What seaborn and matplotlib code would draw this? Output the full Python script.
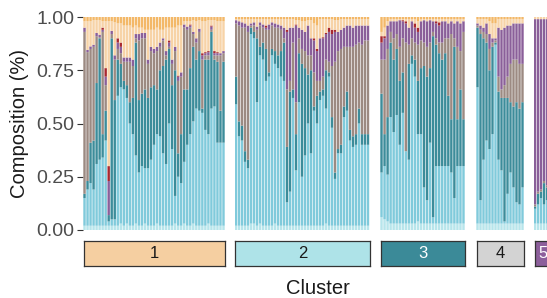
import numpy as np
import pandas as pd
import seaborn as sns
import matplotlib.pyplot as plt

# cumulative composition per sample, bottom -> top:
# (light cyan, light blue, teal, taupe, purple, red, peach); orange fills up to 1.0
cluster1 = [
    (.02, .15, .17, .93, .95, .95, .98), (.02, .19, .23, .835, .846, .846, .98),
    (.02, .22, .41, .85, .862, .862, .98), (.02, .19, .42, .86, .87, .87, .985),
    (.02, .31, .69, .91, .925, .925, .985), (.02, .33, .90, .905, .917, .917, .985),
    (.02, .34, .45, .93, .94, .95, .98), (.02, .42, .56, .68, .72, .76, .98),
    (.02, .04, .07, .07, .23, .30, .98), (.02, .05, .90, .92, .935, .935, .98),
    (.02, .05, .61, .80, .82, .82, .975), (.02, .63, .80, .85, .88, .90, .97),
    (.03, .67, .78, .83, .86, .88, .97), (.02, .66, .70, .79, .81, .81, .96),
    (.03, .62, .68, .79, .81, .81, .96), (.02, .50, .60, .79, .81, .81, .96),
    (.02, .45, .62, .77, .80, .80, .95), (.03, .35, .88, .90, .92, .92, .96),
    (.02, .27, .61, .89, .92, .92, .95), (.02, .30, .64, .90, .925, .925, .95),
    (.03, .29, .66, .90, .925, .925, .94), (.02, .29, .62, .78, .80, .80, .94),
    (.02, .33, .67, .84, .86, .86, .94), (.02, .40, .68, .83, .85, .85, .94),
    (.03, .45, .66, .84, .86, .86, .95), (.02, .44, .75, .86, .88, .88, .94),
    (.02, .36, .77, .89, .90, .90, .94), (.02, .31, .80, .82, .84, .84, .95),
    (.02, .50, .85, .86, .88, .89, .95), (.02, .38, .68, .78, .80, .80, .95),
    (.03, .16, .75, .84, .86, .86, .95), (.02, .25, .36, .70, .72, .725, .96),
    (.02, .22, .45, .72, .74, .74, .96), (.03, .32, .66, .95, .965, .965, .98),
    (.02, .40, .66, .94, .955, .955, .98), (.02, .45, .76, .95, .96, .965, .98),
    (.03, .51, .86, .92, .93, .93, .985), (.02, .57, .80, .88, .90, .90, .98),
    (.02, .56, .84, .93, .945, .945, .985), (.02, .55, .57, .80, .82, .83, .98),
    (.02, .47, .80, .82, .83, .835, .98), (.03, .45, .80, .82, .835, .84, .985),
    (.02, .57, .93, .94, .955, .96, .985), (.02, .58, .80, .82, .83, .84, .985),
    (.02, .41, .79, .82, .83, .835, .98), (.02, .41, .56, .82, .83, .83, .98),
    (.02, .41, .79, .83, .84, .84, .98),
]
cluster2 = [
    (.02, .59, .72, .97, .985, .985, .99), (.02, .44, .51, .96, .98, .98, .99),
    (.02, .42, .49, .95, .975, .975, .99), (.02, .32, .37, .95, .97, .97, .99),
    (.02, .29, .33, .93, .96, .96, .99), (.03, .92, .95, .96, .97, .97, .99),
    (.03, .90, .93, .96, .975, .975, .99), (.02, .60, .90, .94, .955, .955, .99),
    (.03, .82, .86, .96, .975, .975, .99), (.02, .80, .88, .95, .965, .965, .99),
    (.02, .70, .85, .94, .95, .96, .99), (.02, .72, .74, .94, .965, .965, .99),
    (.02, .82, .85, .96, .975, .975, .99), (.03, .78, .84, .95, .97, .97, .99),
    (.02, .76, .82, .95, .965, .965, .99), (.02, .72, .84, .94, .96, .96, .99),
    (.02, .70, .88, .90, .95, .95, .99), (.02, .13, .39, .66, .93, .94, .99),
    (.02, .18, .65, .70, .95, .95, .99), (.02, .62, .66, .88, .95, .95, .99),
    (.02, .28, .45, .60, .96, .965, .985), (.02, .60, .83, .90, .95, .95, .985),
    (.02, .25, .78, .85, .94, .94, .98), (.02, .35, .76, .84, .93, .93, .98),
    (.02, .50, .73, .82, .96, .96, .985), (.02, .36, .75, .82, .90, .90, .985),
    (.02, .56, .58, .74, .89, .90, .97), (.02, .50, .63, .70, .84, .85, .96),
    (.02, .61, .65, .70, .90, .90, .99), (.02, .63, .66, .72, .90, .905, .99),
    (.03, .57, .75, .80, .92, .925, .99), (.02, .72, .74, .79, .93, .95, .99),
    (.02, .48, .53, .77, .92, .94, .99), (.02, .24, .27, .79, .93, .94, .985),
    (.02, .36, .38, .84, .93, .93, .985), (.02, .36, .40, .85, .94, .94, .99),
    (.02, .53, .58, .86, .95, .95, .99), (.02, .56, .65, .86, .96, .96, .99),
    (.02, .42, .47, .86, .96, .96, .99), (.02, .39, .44, .86, .95, .95, .99),
    (.02, .40, .45, .87, .96, .96, .99), (.02, .50, .57, .88, .96, .96, .99),
    (.02, .40, .45, .87, .96, .96, .99), (.02, .40, .45, .89, .96, .96, .99),
    (.02, .40, .45, .89, .96, .96, .99),
]
cluster3 = [
    (.06, .27, .64, .80, .88, .91, .93), (.05, .30, .45, .80, .90, .91, .95),
    (.04, .26, .53, .85, .96, .96, .98), (.03, .53, .88, .93, .98, .98, .99),
    (.03, .46, .80, .90, .98, .98, .99), (.03, .54, .85, .92, .98, .98, .99),
    (.03, .40, .70, .86, .985, .985, .99), (.03, .55, .74, .90, .98, .985, .99),
    (.03, .37, .37, .88, .97, .98, .99), (.03, .33, .78, .87, .95, .95, .99),
    (.03, .78, .82, .90, .98, .98, .99), (.03, .72, .80, .88, .95, .97, .99),
    (.04, .45, .70, .87, .93, .95, .98), (.03, .45, .76, .89, .98, .98, .99),
    (.03, .20, .77, .88, .985, .985, .99), (.03, .14, .72, .86, .98, .98, .99),
    (.03, .41, .76, .88, .985, .985, .99), (.03, .06, .91, .93, .98, .98, .99),
    (.03, .30, .87, .90, .97, .98, .99), (.03, .30, .83, .88, .96, .975, .99),
    (.03, .30, .80, .88, .98, .98, .99), (.03, .30, .83, .90, .98, .98, .99),
    (.03, .30, .63, .90, .97, .97, .99), (.03, .27, .52, .92, .98, .98, .99),
    (.03, .15, .86, .90, .97, .97, .99), (.03, .30, .52, .86, .98, .98, .99),
    (.03, .30, .66, .84, .97, .97, .99), (.03, .30, .52, .93, .98, .98, .99),
]
cluster4 = [
    (.03, .67, .95, .96, .97, .97, .99), (.03, .14, .92, .94, .96, .96, .99),
    (.03, .33, .90, .93, .95, .95, .99), (.03, .42, .88, .92, .97, .97, .99),
    (.03, .38, .75, .85, .92, .92, .98), (.03, .45, .86, .88, .90, .90, .97),
    (.03, .87, .88, .89, .90, .90, .97), (.03, .33, .65, .72, .95, .95, .99),
    (.03, .28, .62, .66, .94, .94, .99), (.03, .04, .62, .68, .95, .95, .99),
    (.03, .17, .62, .72, .96, .96, .99), (.03, .27, .60, .78, .96, .96, .99),
    (.03, .20, .58, .80, .97, .97, .99), (.03, .13, .60, .80, .97, .97, .99),
    (.03, .12, .57, .78, .97, .97, .99), (.03, .20, .60, .78, .97, .97, .99),
]
cluster5 = [
    (.03, .10, .11, .12, .99, .99, 1.0), (.03, .12, .17, .18, .99, .99, 1.0),
    (.03, .15, .18, .19, .99, .99, 1.0), (.03, .12, .22, .23, .99, .99, 1.0),
    (.03, .14, .20, .21, .99, .99, 1.0), (.03, .12, .18, .19, .99, .99, 1.0),
]

clusters = ['1', '2', '3', '4', '5']
layers = ['lightcyan', 'lightblue', 'teal', 'taupe', 'purple', 'red', 'peach', 'orange']
layer_colors = ['#b7e5eb', '#80cadb', '#3c8c9a', '#9c8a82', '#8a5f99', '#a8282f',
                '#f7d3a7', '#f3b868']
strip_colors = ['#f5cfa1', '#aee3e8', '#3b8a98', '#d3d3d3', '#8c5f9b']
strip_text_colors = ['#1a1a1a', '#1a1a1a', 'white', '#1a1a1a', 'white']

sns.set_theme(style='white')
plt.rcParams['font.family'] = ['Liberation Sans', 'DejaVu Sans']

W, H = 547, 298
fig = plt.figure(figsize=(W / 100, H / 100), dpi=100)


def box(x0, x1, y0, y1):
    return [x0 / W, 1 - y1 / H, (x1 - x0) / W, (y1 - y0) / H]


panel_x = [(83, 225), (234.5, 369.5), (380, 465), (476, 524), (533.5, 551.5)]
palette = dict(zip(layers, layer_colors))

for k, rows in enumerate([cluster1, cluster2, cluster3, cluster4, cluster5]):
    cum = np.array(rows)
    cum = np.column_stack([np.zeros(len(cum)), cum, np.ones(len(cum))])
    share = pd.DataFrame(np.diff(cum, axis=1), columns=layers)
    share['sample'] = np.arange(len(share))
    long = share.melt(id_vars='sample', var_name='layer', value_name='share')

    x0, x1 = panel_x[k]
    ax = fig.add_axes(box(x0, x1, 17, 230))
    # stacked composition bars; histplot stacks the first hue level on top
    sns.histplot(data=long, x='sample', weights='share', hue='layer',
                 hue_order=layers[::-1], palette=palette, multiple='stack',
                 discrete=True, shrink=0.8, alpha=1, linewidth=0,
                 legend=False, ax=ax)
    for p in ax.patches:
        p.set_snap(False)
    n = len(share)
    ax.set_xlim(-0.5, n - 0.5)
    ax.set_ylim(0, 1)
    ax.set_xticks([])
    ax.set_xlabel('')
    ax.set_ylabel('')
    sns.despine(ax=ax, left=True, bottom=True)
    if k == 0:
        ax.set_yticks([0, 0.25, 0.5, 0.75, 1.0])
        ax.set_yticklabels(['0.00', '0.25', '0.50', '0.75', '1.00'])
        ax.tick_params(axis='y', left=True, length=4, width=0.8, color='#333333',
                       labelsize=14, labelcolor='#4d4d4d', pad=2)
    else:
        ax.set_yticks([])

    sx = fig.add_axes(box(x0 + 1, x1, 241, 266))
    sx.set_facecolor(strip_colors[k])
    sx.set_xticks([])
    sx.set_yticks([])
    for sp in sx.spines.values():
        sp.set_visible(True)
        sp.set_color('#333333')
        sp.set_linewidth(0.9)
    sx.text(0.5, 0.5, clusters[k], ha='center', va='center', fontsize=12,
            color=strip_text_colors[k], transform=sx.transAxes)

fig.text(20 / W, 1 - 123 / H, 'Composition (%)', rotation=90, ha='center',
         va='center', fontsize=14.5, color='#1a1a1a')
fig.text(318 / W, 1 - 289 / H, 'Cluster', ha='center', va='center',
         fontsize=14.5, color='#1a1a1a')

fig.savefig('out.png', dpi=100)
